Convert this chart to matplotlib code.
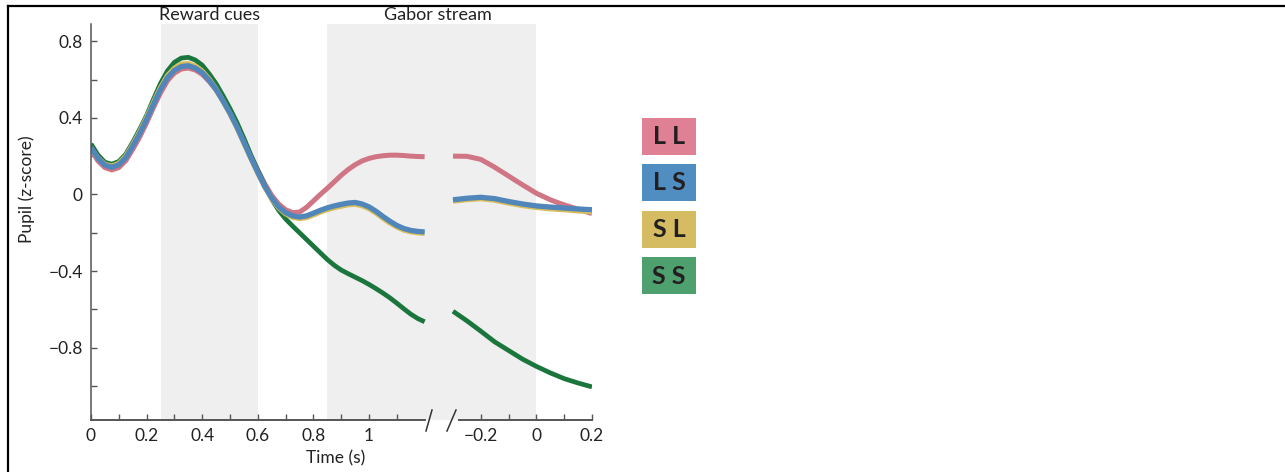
import matplotlib
matplotlib.use("Agg")
import matplotlib.pyplot as plt
from matplotlib.patches import Rectangle
from matplotlib.lines import Line2D
import matplotlib.transforms as mtransforms

plt.rcParams['font.family'] = ['Lato', 'DejaVu Sans']

# ---------------- data ----------------
conditions = ["LL", "LS", "SL", "SS"]
legend_labels = ["L L", "L S", "S L", "S S"]

# segment 1: time from reward-cue onset (s)
time1 = [0.000, 0.025, 0.050, 0.075, 0.100, 0.125, 0.150, 0.175, 0.200, 0.225,
         0.250, 0.275, 0.300, 0.325, 0.350, 0.375, 0.400, 0.425, 0.450, 0.475,
         0.500, 0.525, 0.550, 0.575, 0.600, 0.625, 0.650, 0.675, 0.700, 0.725,
         0.750, 0.775, 0.800, 0.825, 0.850, 0.875, 0.900, 0.925, 0.950, 0.975,
         1.000, 1.025, 1.050, 1.075, 1.100, 1.125, 1.150, 1.175, 1.200]
ll1 = [0.232, 0.175, 0.140, 0.128, 0.140, 0.176, 0.235, 0.300, 0.374, 0.455,
       0.530, 0.594, 0.634, 0.655, 0.660, 0.650, 0.627, 0.590, 0.545, 0.488,
       0.426, 0.357, 0.280, 0.202, 0.127, 0.055, -0.005, -0.050, -0.080, -0.095,
       -0.092, -0.068, -0.034, 0.000, 0.032, 0.066, 0.100, 0.130, 0.155, 0.175,
       0.188, 0.197, 0.202, 0.205, 0.205, 0.203, 0.200, 0.198, 0.197]
ls1 = [0.245, 0.188, 0.153, 0.142, 0.155, 0.192, 0.252, 0.318, 0.392, 0.472,
       0.548, 0.610, 0.648, 0.668, 0.672, 0.660, 0.636, 0.596, 0.548, 0.488,
       0.424, 0.352, 0.272, 0.192, 0.115, 0.042, -0.018, -0.065, -0.095, -0.112,
       -0.118, -0.112, -0.098, -0.083, -0.070, -0.060, -0.052, -0.045, -0.042, -0.050,
       -0.065, -0.088, -0.115, -0.140, -0.162, -0.178, -0.188, -0.193, -0.196]
sl1 = [0.240, 0.190, 0.157, 0.148, 0.162, 0.200, 0.260, 0.327, 0.401, 0.481,
       0.558, 0.620, 0.659, 0.680, 0.683, 0.670, 0.644, 0.602, 0.550, 0.487,
       0.421, 0.348, 0.268, 0.188, 0.111, 0.038, -0.022, -0.070, -0.101, -0.119,
       -0.126, -0.121, -0.107, -0.092, -0.079, -0.069, -0.061, -0.054, -0.051, -0.059,
       -0.074, -0.097, -0.124, -0.149, -0.170, -0.186, -0.195, -0.200, -0.203]
ss1 = [0.264, 0.206, 0.168, 0.158, 0.172, 0.210, 0.272, 0.340, 0.412, 0.498,
       0.580, 0.645, 0.690, 0.712, 0.716, 0.702, 0.675, 0.630, 0.578, 0.515,
       0.448, 0.375, 0.293, 0.205, 0.125, 0.048, -0.025, -0.083, -0.128, -0.165,
       -0.200, -0.235, -0.270, -0.305, -0.340, -0.370, -0.395, -0.414, -0.432, -0.450,
       -0.470, -0.492, -0.515, -0.540, -0.568, -0.597, -0.625, -0.648, -0.665]

# segment 2: time relative to Gabor-stream end (s)
time2 = [-0.30, -0.25, -0.20, -0.15, -0.10, -0.05, 0.00, 0.05, 0.10, 0.15, 0.20]
ll2 = [0.200, 0.199, 0.183, 0.142, 0.096, 0.050, 0.006, -0.028, -0.055, -0.077, -0.100]
ls2 = [-0.028, -0.020, -0.015, -0.022, -0.037, -0.050, -0.060, -0.066, -0.071, -0.076, -0.080]
sl2 = [-0.035, -0.027, -0.022, -0.030, -0.045, -0.058, -0.068, -0.075, -0.080, -0.086, -0.090]
ss2 = [-0.610, -0.660, -0.714, -0.770, -0.815, -0.860, -0.898, -0.932, -0.962, -0.985, -1.005]

# epochs (shaded)
epoch_names = ["Reward cues", "Gabor stream"]
reward_span = (0.25, 0.60)          # segment-1 time
gabor_start1 = 0.85                  # segment-1 time
gabor_end2 = 0.00                    # segment-2 time

# axis ticks
xticks1 = [0.0, 0.1, 0.2, 0.3, 0.4, 0.5, 0.6, 0.7, 0.8, 0.9, 1.0, 1.1]
xlabels1 = ["0", "", "0.2", "", "0.4", "", "0.6", "", "0.8", "", "1", ""]
xticks2 = [-0.2, -0.1, 0.0, 0.1, 0.2]
xlabels2 = ["\u22120.2", "", "0", "", "0.2"]
yticks = [-1.0, -0.8, -0.6, -0.4, -0.2, 0.0, 0.2, 0.4, 0.6, 0.8]
ylabels = ["", "\u22120.8", "", "\u22120.4", "", "0", "", "0.4", "", "0.8"]

# ---------------- styles ----------------
line_colors = {"LL": "#D07584", "LS": "#5086BA", "SL": "#D9BE5C", "SS": "#1A763D"}
box_colors = {"LL": "#E08095", "LS": "#508DC0", "SL": "#D5BC62", "SS": "#4EA06E"}
draw_order = ["LL", "SS", "SL", "LS"]
line_widths = {"LL": 3.6, "LS": 3.8, "SL": 3.8, "SS": 3.4}
OFFSET = 1.602          # x-position of segment-2 time zero on the shared axis
seg1_end, seg2_start = 1.20, -0.28

W, H = 1285, 472
fig = plt.figure(figsize=(W / 100, H / 100), dpi=100)
ax = fig.add_axes([91 / W, 1 - 420 / H, (592 - 91) / W, 396 / H])

ax.set_xlim(0, OFFSET + 0.2)
ax.set_ylim(-1.178, 0.89)

shade = "#EFEFEF"
ax.axvspan(reward_span[0], reward_span[1], color=shade, lw=0, zorder=0)
ax.axvspan(gabor_start1, OFFSET + gabor_end2, color=shade, lw=0, zorder=0)

series1 = {"LL": ll1, "LS": ls1, "SL": sl1, "SS": ss1}
series2 = {"LL": ll2, "LS": ls2, "SL": sl2, "SS": ss2}
x2 = [OFFSET + t for t in time2]
for c in draw_order:
    ax.plot(time1, series1[c], color=line_colors[c], lw=line_widths[c],
            solid_capstyle="butt", solid_joinstyle="round", zorder=2)
    ax.plot(x2, series2[c], color=line_colors[c], lw=line_widths[c],
            solid_capstyle="butt", solid_joinstyle="round", zorder=2)

# spines
for s in ["top", "right", "bottom"]:
    ax.spines[s].set_visible(False)
ax.spines["left"].set_color("#555555")
ax.spines["left"].set_linewidth(1.1)
trans = mtransforms.blended_transform_factory(ax.transData, ax.transAxes)
ax.plot([0, seg1_end], [0, 0], color="#555555", lw=1.4, transform=trans, clip_on=False, zorder=3)
ax.plot([OFFSET + seg2_start, OFFSET + 0.2], [0, 0], color="#555555", lw=1.4,
        transform=trans, clip_on=False, zorder=3)

# break marks
for (xa, xb) in [(426, 432), (447, 456)]:
    fig.add_artist(Line2D([xa / W, xb / W], [1 - 431 / H, 1 - 410 / H],
                          color="#333333", lw=1.1))

ax.set_xticks(xticks1 + [OFFSET + t for t in xticks2])
ax.set_xticklabels(xlabels1 + xlabels2)
ax.set_yticks(yticks)
ax.set_yticklabels(ylabels)
ax.tick_params(axis="both", direction="in", length=4, width=1.0, color="#555555",
               labelsize=12.5, labelcolor="#222222")
ax.tick_params(axis="x", pad=6)
ax.tick_params(axis="y", pad=6)

ax.set_xlabel("Time (s)", fontsize=12.5, color="#222222")
ax.xaxis.set_label_coords((336 - 91) / (592 - 91), -(450 - 420) / 396)
ax.set_ylabel("Pupil (z-score)", fontsize=12.5, color="#222222")
ax.yaxis.set_label_coords(-(91 - 35) / (592 - 91), (420 - 189) / 396)

# epoch titles
centers = [(reward_span[0] + reward_span[1]) / 2, (gabor_start1 + OFFSET + gabor_end2) / 2 + 0.02]
for name, cx in zip(epoch_names, centers):
    ax.text(cx, 1 + (24 - 15) / 396, name, transform=trans, ha="center", va="center",
            fontsize=13, color="#222222")

# legend boxes
tops = [118, 164, 210.5, 257]
for c, lab, top in zip(conditions, legend_labels, tops):
    fig.add_artist(Rectangle((642 / W, 1 - (top + 37) / H), 54 / W, 37 / H,
                             transform=fig.transFigure, facecolor=box_colors[c],
                             edgecolor="none"))
    fig.text(669 / W, 1 - (top + 19) / H, lab, ha="center", va="center",
             fontsize=18, fontweight="bold", color="#231F20")

# frame lines of the source image
fig.add_artist(Line2D([8 / W, 1], [1 - 6 / H, 1 - 6 / H], color="black", lw=1.6))
fig.add_artist(Line2D([8 / W, 8 / W], [0, 1 - 6 / H], color="black", lw=1.6))

fig.savefig("out.png", dpi=100)
